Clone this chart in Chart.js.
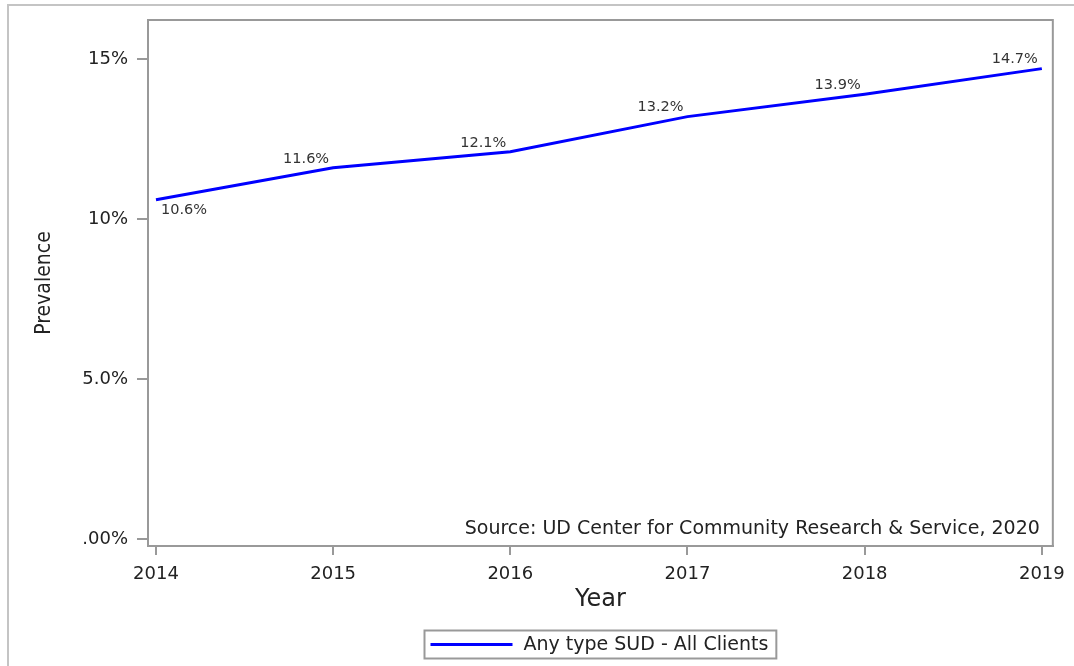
<!DOCTYPE html>
<html>
<head>
<meta charset="utf-8">
<script src="https://cdn.jsdelivr.net/npm/chart.js@4/dist/chart.umd.min.js"></script>
<style>
  html,body{margin:0;padding:0;background:#fff;overflow:hidden}
  #frame{position:absolute;left:7px;top:4px;width:1200px;height:800px;border-left:2px solid #c4c4c4;border-top:2px solid #c4c4c4}
  #wrap{position:absolute;left:0;top:0;width:1074px;height:666px}
</style>
</head>
<body>
<div id="frame"></div>
<div id="wrap"><canvas id="chart"></canvas></div>
<script>
// data
const years=[2014,2015,2016,2017,2018,2019];
const prevalence=[10.6,11.6,12.1,13.2,13.9,14.7];
const yTickValues=[0,5,10,15];
const yTickLabels=['.00%','5.0%','10%','15%'];
const seriesName='Any type SUD - All Clients';
const sourceNote='Source: UD Center for Community Research & Service, 2020';

const FONT='"DejaVu Sans", Verdana, sans-serif';
const AXIS='#999';
const INK='#222';

// frame, value labels, source note, legend
const extras={
  id:'extras',
  afterDatasetsDraw(chart){
    const ctx=chart.ctx, a=chart.chartArea;
    ctx.save();
    ctx.strokeStyle=AXIS;ctx.lineWidth=2;
    ctx.beginPath();
    ctx.moveTo(a.left,a.top);ctx.lineTo(a.right,a.top);ctx.lineTo(a.right,a.bottom);
    ctx.stroke();

    const pts=chart.getDatasetMeta(0).data;
    ctx.font='14.5px '+FONT;ctx.fillStyle='#333';ctx.textBaseline='middle';
    pts.forEach((p,i)=>{
      const txt=prevalence[i].toFixed(1)+'%';
      if(i===0){ctx.textAlign='left';ctx.fillText(txt,p.x+5,p.y+10);}
      else{ctx.textAlign='right';ctx.fillText(txt,p.x-4,p.y-9);}
    });

    ctx.font='19px '+FONT;ctx.fillStyle=INK;ctx.textAlign='right';
    ctx.fillText(sourceNote,a.right-13,a.bottom-17);

    // legend
    const cx=(a.left+a.right)/2;
    ctx.font='19px '+FONT;
    const tw=ctx.measureText(seriesName).width;
    const w=6+82+11+tw+8, h=28;
    const lx=Math.round(cx-w/2)+0.5, ly=630.5;
    ctx.strokeStyle=AXIS;ctx.lineWidth=2;
    ctx.strokeRect(lx,ly,w,h);
    ctx.strokeStyle='#0000ff';ctx.lineWidth=3;
    ctx.beginPath();ctx.moveTo(lx+6,ly+h/2);ctx.lineTo(lx+88,ly+h/2);ctx.stroke();
    ctx.fillStyle=INK;ctx.textAlign='left';
    ctx.fillText(seriesName,lx+99,ly+h/2+1);
    ctx.restore();
  }
};

new Chart(document.getElementById('chart'),{
  type:'line',
  data:{
    datasets:[{
      label:seriesName,
      data:years.map((y,i)=>({x:y,y:prevalence[i]})),
      borderColor:'#0000ff',
      borderWidth:3,
      pointRadius:0,
      tension:0,
      fill:false
    }]
  },
  options:{
    responsive:true,maintainAspectRatio:false,animation:false,
    layout:{padding:{top:20,right:21,left:28,bottom:48}},
    plugins:{legend:{display:false},tooltip:{enabled:false}},
    scales:{
      x:{
        type:'linear',min:2013.955,max:2019.062,
        afterBuildTicks:s=>{s.ticks=years.map(v=>({value:v}));},
        afterFit:s=>{s.height=72;},
        grid:{drawOnChartArea:false,color:AXIS,lineWidth:2,tickLength:9},
        border:{color:AXIS,width:2},
        ticks:{color:INK,font:{family:FONT,size:18},padding:9,maxRotation:0,callback:v=>String(v)},
        title:{display:true,text:'Year',color:INK,font:{family:FONT,size:24}}
      },
      y:{
        min:-0.22,max:16.22,
        afterBuildTicks:s=>{s.ticks=yTickValues.map(v=>({value:v}));},
        afterFit:s=>{s.width=120;},
        grid:{drawOnChartArea:false,color:AXIS,lineWidth:2,tickLength:11},
        border:{color:AXIS,width:2},
        ticks:{color:INK,font:{family:FONT,size:18},padding:9,
          callback:v=>yTickLabels[yTickValues.indexOf(v)]},
        title:{display:true,text:'Prevalence',color:INK,font:{family:'"DejaVu Sans Condensed", "Liberation Sans Narrow", '+FONT,size:21}}
      }
    }
  },
  plugins:[extras]
});
</script>
</body>
</html>
